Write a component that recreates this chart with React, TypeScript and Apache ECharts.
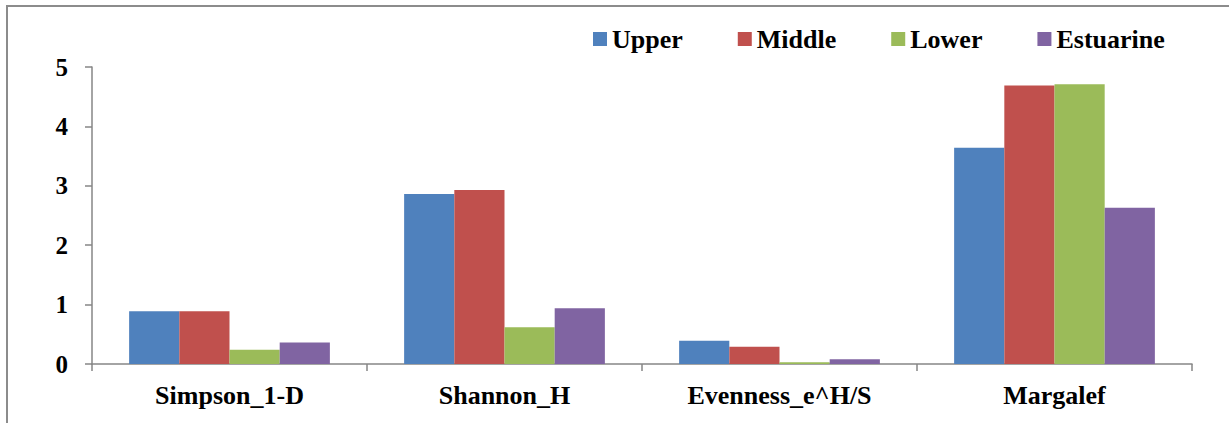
import React, { useEffect, useRef } from "react";
import * as echarts from "echarts";

const categories = ["Simpson_1-D", "Shannon_H", "Evenness_e^H/S", "Margalef"];
const upper = [0.89, 2.86, 0.39, 3.64];
const middle = [0.89, 2.93, 0.29, 4.69];
const lower = [0.24, 0.62, 0.03, 4.71];
const estuarine = [0.36, 0.94, 0.08, 2.63];
const seriesNames = ["Upper", "Middle", "Lower", "Estuarine"];
const colors = ["#4F81BD", "#C0504D", "#9BBB59", "#8064A2"];

const FONT = "Liberation Serif";

export default function App() {
  const ref = useRef<HTMLDivElement>(null);
  useEffect(() => {
    if (!ref.current) return;
    const chart = echarts.init(ref.current, undefined, { renderer: "svg" });
    const values = [upper, middle, lower, estuarine];
    chart.setOption({
      animation: false,
      backgroundColor: "#ffffff",
      textStyle: { fontFamily: FONT },
      graphic: [
        {
          type: "rect",
          shape: { x: 7, y: 6, width: 1250, height: 450 },
          style: { fill: "none", stroke: "#8c8c8c", lineWidth: 2 },
          silent: true,
        },
      ],
      legend: {
        left: 588,
        top: 21,
        itemWidth: 14,
        itemHeight: 14,
        itemGap: 55,
        icon: "rect",
        data: seriesNames,
        textStyle: {
          fontFamily: FONT,
          fontWeight: "bold",
          fontSize: 26,
          color: "#000",
          padding: [0, 0, 0, 0],
        },
      },
      grid: { left: 92, right: 37, top: 67, bottom: 59, containLabel: false },
      xAxis: {
        type: "category",
        data: categories,
        axisLine: { lineStyle: { color: "#868686", width: 1.5 } },
        axisTick: { show: true, length: 7, lineStyle: { color: "#868686", width: 1.5 } },
        axisLabel: {
          margin: 18,
          fontFamily: FONT,
          fontWeight: "bold",
          fontSize: 26,
          color: "#000",
        },
      },
      yAxis: {
        type: "value",
        min: 0,
        max: 5,
        interval: 1,
        splitLine: { show: false },
        axisLine: { show: true, lineStyle: { color: "#868686", width: 1.5 } },
        axisTick: { show: true, length: 7, lineStyle: { color: "#868686", width: 1.5 } },
        axisLabel: {
          margin: 24,
          fontFamily: FONT,
          fontWeight: "bold",
          fontSize: 25,
          color: "#000",
        },
      },
      series: seriesNames.map((name, i) => ({
        name,
        type: "bar",
        data: values[i],
        barGap: "0%",
        barCategoryGap: "27%",
        itemStyle: { color: colors[i] },
      })),
    });
    return () => chart.dispose();
  }, []);
  return (
    <div
      ref={ref}
      style={{ position: "absolute", left: 0, top: 0, width: 1229, height: 423 }}
    />
  );
}
